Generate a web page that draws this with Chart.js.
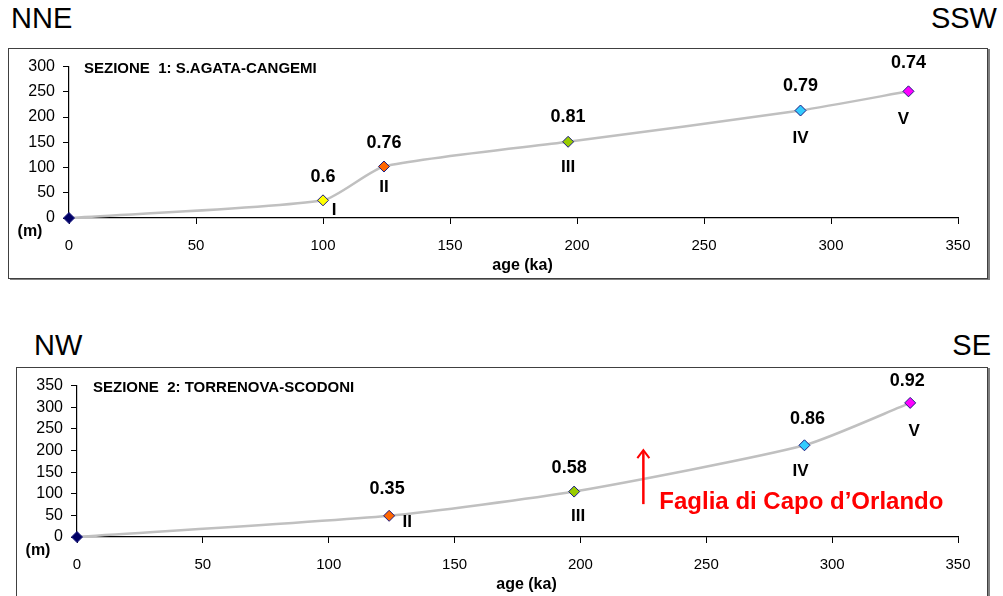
<!DOCTYPE html>
<html>
<head>
<meta charset="utf-8">
<script src="https://cdn.jsdelivr.net/npm/chart.js@4/dist/chart.umd.min.js"></script>
<style>
    body { margin: 0; background: #fff; font-family: Arial, 'Liberation Sans', sans-serif; width: 1003px; height: 596px; position: relative; overflow: hidden; }
    .dir { position: absolute; font-size: 29px; line-height: 29px; color: #000; }
    .box { position: absolute; border: 1px solid #404040; box-shadow: 2px 1px 0 #808080; background: #fff; }
    .box canvas { display: block; }
</style>
</head>
<body>
<div class="dir" style="left:11px;top:4px">NNE</div>
<div class="dir" style="right:6px;top:4px">SSW</div>
<div class="dir" style="left:34px;top:331px">NW</div>
<div class="dir" style="right:12px;top:331px">SE</div>

<div class="box" style="left:8px;top:48px;width:978px;height:229px"><canvas id="chart1" width="978" height="229"></canvas></div>
<div class="box" style="left:16px;top:367px;width:970px;height:229px"><canvas id="chart2" width="970" height="229"></canvas></div>

<script>
// Sezione 1: S.Agata-Cangemi
const ages1 = [0, 100, 124, 196.5, 288, 330.5];
const heights1 = [0, 35, 102, 151, 213, 251];
const rates1 = ['', '0.6', '0.76', '0.81', '0.79', '0.74'];
const terraces1 = ['', 'I', 'II', 'III', 'IV', 'V'];

// Sezione 2: Torrenova-Scodoni
const ages2 = [0, 124, 197.5, 289, 331];
const heights2 = [0, 49, 105, 212, 310];
const rates2 = ['', '0.35', '0.58', '0.86', '0.92'];
const terraces2 = ['', 'II', 'III', 'IV', 'V'];

const xTicks = [0, 50, 100, 150, 200, 250, 300, 350];

// colori dei marker per terrazzo
const terraceColors = { '': '#000066', 'I': '#FFFF00', 'II': '#FF6600', 'III': '#99CC00', 'IV': '#33CCFF', 'V': '#FF00FF' };

// spostamenti delle etichette rispetto al punto (px)
const numOffsets1 = [null, [11, 10], [0, 21], [0, 26], [0, 28], [-5, 28]];
const numOffsets2 = [null, [18, 7], [4, 25], [-4, 26], [4, 28]];
const rateOffsets1 = [null, [0, -23], [0, -23], [0, -25], [0, -24], [0, -28]];
const rateOffsets2 = [null, [-2, -27], [-5, -24], [3, -26], [-3, -22]];

const FONT = "Arial, 'Liberation Sans', sans-serif";

const annotPlugin = {
    id: 'annot',
    afterDatasetsDraw(chart, args, opts) {
        const ctx = chart.ctx;
        const pts = chart.getDatasetMeta(0).data;
        const area = chart.chartArea;
        ctx.save();
        ctx.fillStyle = '#000';
        ctx.textAlign = 'center';
        ctx.textBaseline = 'middle';
        pts.forEach((p, i) => {
            if (opts.rates[i]) {
                ctx.font = 'bold 18px ' + FONT;
                ctx.fillText(opts.rates[i], p.x + opts.rateOffsets[i][0], p.y + opts.rateOffsets[i][1]);
            }
            if (opts.terraces[i]) {
                ctx.font = 'bold 17px ' + FONT;
                ctx.fillText(opts.terraces[i], p.x + opts.numOffsets[i][0], p.y + opts.numOffsets[i][1]);
            }
        });
        // titolo della sezione
        ctx.textAlign = 'left';
        ctx.font = 'bold 15px ' + FONT;
        ctx.fillText(opts.title, area.left + opts.titleDx, area.top + 2);
        // unita asse y
        ctx.textAlign = 'center';
        ctx.font = 'bold 16px ' + FONT;
        ctx.fillText('(m)', area.left - 39, area.bottom + 14);
        // titolo asse x
        ctx.fillText('age (ka)', (area.left + area.right) / 2 + 9, area.bottom + 48);

        if (opts.fault) {
            const xs = chart.scales.x, ys = chart.scales.y;
            const fx = xs.getPixelForValue(opts.fault.x);
            const y0 = ys.getPixelForValue(opts.fault.y0);
            const y1 = ys.getPixelForValue(opts.fault.y1);
            ctx.strokeStyle = '#FF0000';
            ctx.fillStyle = '#FF0000';
            ctx.lineWidth = 2.5;
            ctx.beginPath();
            ctx.moveTo(fx, y0);
            ctx.lineTo(fx, y1 + 2);
            ctx.stroke();
            ctx.beginPath();
            ctx.moveTo(fx - 6, y1 + 8);
            ctx.lineTo(fx, y1);
            ctx.lineTo(fx + 6, y1 + 8);
            ctx.lineWidth = 2;
            ctx.stroke();
            ctx.textAlign = 'left';
            ctx.font = 'bold 24px ' + FONT;
            ctx.fillText(opts.fault.text, fx + 16, ys.getPixelForValue(opts.fault.textY));
        }
        ctx.restore();
    }
};

function makeChart(id, ages, heights, terraces, rates, yMax, extra) {
    const ctx = document.getElementById(id);
    return new Chart(ctx, {
        type: 'line',
        data: {
            datasets: [{
                data: ages.map((a, i) => ({ x: a, y: heights[i] })),
                borderColor: '#C0C0C0',
                borderWidth: 2.5,
                tension: 0.2,
                clip: false,
                pointStyle: 'rectRot',
                pointRadius: 5.5,
                pointBorderWidth: 1,
                pointBorderColor: '#1a1a80',
                pointBackgroundColor: terraces.map(t => terraceColors[t])
            }]
        },
        options: {
            responsive: false,
            animation: false,
            layout: { padding: { left: 0, right: 29, top: 16, bottom: 0 } },
            plugins: {
                legend: { display: false },
                tooltip: { enabled: false },
                annot: Object.assign({ rates: rates, terraces: terraces }, extra)
            },
            scales: {
                x: {
                    type: 'linear',
                    min: 0,
                    max: 350,
                    afterBuildTicks: s => { s.ticks = xTicks.map(v => ({ value: v })); },
                    afterFit: s => { s.height = 60; },
                    grid: { drawOnChartArea: false, drawTicks: true, tickLength: 6, tickColor: '#000' },
                    border: { color: '#000', width: 1.2 },
                    ticks: { color: '#000', padding: 13, autoSkip: false, font: { family: FONT, size: 15 } }
                },
                y: {
                    min: 0,
                    max: yMax,
                    afterFit: s => { s.width = 60; },
                    grid: { drawOnChartArea: false, drawTicks: true, tickLength: 6, tickColor: '#000' },
                    border: { color: '#000', width: 1.2 },
                    ticks: { stepSize: 50, color: '#000', padding: 8, autoSkip: false, font: { family: FONT, size: 16 } }
                }
            }
        },
        plugins: [annotPlugin]
    });
}

makeChart('chart1', ages1, heights1, terraces1, rates1, 300, {
    title: 'SEZIONE  1: S.AGATA-CANGEMI', titleDx: 15,
    rateOffsets: rateOffsets1, numOffsets: numOffsets1
});
makeChart('chart2', ages2, heights2, terraces2, rates2, 350, {
    title: 'SEZIONE  2: TORRENOVA-SCODONI', titleDx: 16,
    rateOffsets: rateOffsets2, numOffsets: numOffsets2,
    fault: { x: 225, y0: 76, y1: 201, textY: 80, text: 'Faglia di Capo d\u2019Orlando' }
});
</script>
</body>
</html>
